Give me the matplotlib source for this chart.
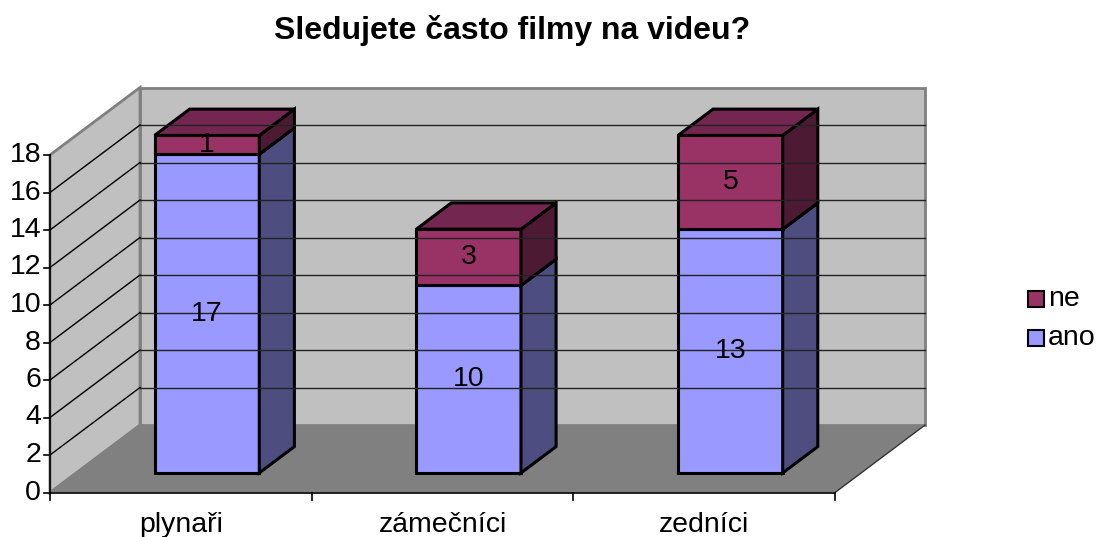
import matplotlib
matplotlib.use("Agg")
import matplotlib.pyplot as plt
from matplotlib.patches import Polygon, Rectangle

categories = ["plynaři", "zámečníci", "zedníci"]
ano = [17, 10, 13]
ne = [1, 3, 5]
series = [("ano", ano), ("ne", ne)]
yticks = [0, 2, 4, 6, 8, 10, 12, 14, 16, 18]
ymax = 18
title = "Sledujete často filmy na videu?"

# face colours: front, top, side
colors = {
    "ano": ("#9999FF", "#7A7ACC", "#4D4D80"),
    "ne": ("#993366", "#732650", "#4D1A33"),
}

# oblique projection into pixel space
X0, Y0 = 50, 492.5
CW = 261.7      # width of one category
VS = 18.75      # pixels per unit
DX, DY = 90, 67.5
Z0, Z1 = 0.29, 0.68   # bar depth
HALF = 0.2
FS = 20.5


def P(x, v, z):
    return (X0 + x * CW + z * DX, Y0 - v * VS - z * DY)


plt.rcParams['font.family'] = ['Liberation Sans', 'DejaVu Sans']
fig = plt.figure(figsize=(10.99, 5.37), dpi=100)
ax = fig.add_axes([0, 0, 1, 1])
ax.set_xlim(0, 1099)
ax.set_ylim(537, 0)
ax.axis('off')

n = len(categories)
wall = "#C0C0C0"
edge = "#808080"

# walls and floor
ax.add_patch(Polygon([P(0, 0, 1), P(n, 0, 1), P(n, ymax, 1), P(0, ymax, 1)],
                     closed=True, fc=wall, ec=edge, lw=2))
ax.add_patch(Polygon([P(0, 0, 0), P(0, 0, 1), P(0, ymax, 1), P(0, ymax, 0)],
                     closed=True, fc=wall, ec=edge, lw=2))
ax.add_patch(Polygon([P(0, 0, 0), P(n, 0, 0), P(n, 0, 1), P(0, 0, 1)],
                     closed=True, fc="#808080", ec="none"))

# gridlines on both walls
for v in yticks[1:-1]:
    ax.plot(*zip(P(0, v, 0), P(0, v, 1)), color="black", lw=1)
    ax.plot(*zip(P(0, v, 1), P(n, v, 1)), color="#222222", lw=1)

# front edge of floor, right floor edge, value axis
ax.plot(*zip(P(0, 0, 0), P(n, 0, 0)), color="black", lw=1.2)
ax.plot(*zip(P(n, 0, 0), P(n, 0, 1)), color="#333333", lw=1)
ax.plot(*zip(P(0, 0, 0), P(0, ymax, 0)), color="black", lw=1.2)
for i in range(n + 1):
    x, y = P(i, 0, 0)
    ax.plot([x, x], [y, y + 7], color="black", lw=1.2)
for v in yticks:
    x, y = P(0, v, 0)
    ax.plot([x - 6, x], [y, y], color="black", lw=1.2)
    ax.text(x - 9, y, str(v), ha="right", va="center", fontsize=FS)

for i, cat in enumerate(categories):
    x, y = P(i + 0.5, 0, 0)
    ax.text(x, y + 32, cat, ha="center", va="center", fontsize=FS)

# stacked bars
for i in range(n):
    l, r = i + 0.5 - HALF, i + 0.5 + HALF
    base = 0
    for name, vals in series:
        top = base + vals[i]
        front, topc, side = colors[name]
        ax.add_patch(Polygon([P(l, base, Z0), P(r, base, Z0), P(r, top, Z0), P(l, top, Z0)],
                             closed=True, fc=front, ec="black", lw=2.2, joinstyle="miter"))
        ax.add_patch(Polygon([P(r, base, Z0), P(r, base, Z1), P(r, top, Z1), P(r, top, Z0)],
                             closed=True, fc=side, ec="black", lw=2.2, joinstyle="miter"))
        ax.add_patch(Polygon([P(l, top, Z0), P(r, top, Z0), P(r, top, Z1), P(l, top, Z1)],
                             closed=True, fc=topc, ec="black", lw=2.2, joinstyle="miter"))
        lx, ly = P(i + 0.5, base + vals[i] / 2, Z0)
        ax.text(lx, ly, str(vals[i]), ha="center", va="center", fontsize=FS)
        base = top

# legend
for k, (name, vals) in enumerate(reversed(series)):
    y = 299 + k * 39
    ax.add_patch(Rectangle((1028, y - 8), 16, 16, fc=colors[name][0], ec="black", lw=1.5))
    ax.text(1048, y, name, ha="left", va="center", fontsize=FS)

ax.text(512, 30, title, ha="center", va="center", fontsize=23, fontweight="bold")

fig.savefig("out.png", dpi=100)
